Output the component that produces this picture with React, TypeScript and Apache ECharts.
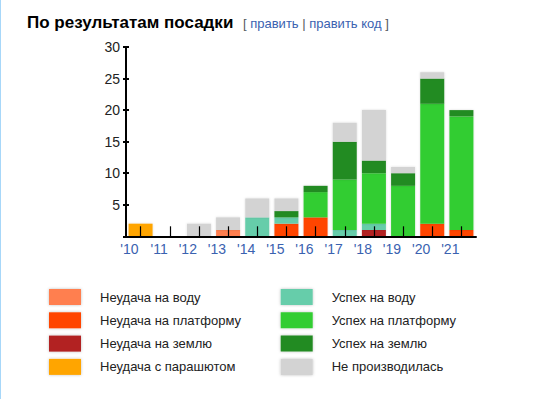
import React, { useEffect, useRef } from "react";
import * as echarts from "echarts";

const years = ["'10", "'11", "'12", "'13", "'14", "'15", "'16", "'17", "'18", "'19", "'20", "'21"];
const oceanFail = [0, 0, 0, 1, 0, 0, 0, 0, 0, 0, 0, 0];
const platformFail = [0, 0, 0, 0, 0, 2, 3, 0, 0, 0, 2, 1];
const groundFail = [0, 0, 0, 0, 0, 0, 0, 0, 1, 0, 0, 0];
const parachuteFail = [2, 0, 0, 0, 0, 0, 0, 0, 0, 0, 0, 0];
const oceanSuccess = [0, 0, 0, 0, 3, 1, 0, 1, 1, 0, 0, 0];
const platformSuccess = [0, 0, 0, 0, 0, 0, 4, 8, 8, 8, 19, 18];
const groundSuccess = [0, 0, 0, 0, 0, 1, 1, 6, 2, 2, 4, 1];
const notPerformed = [0, 0, 2, 2, 3, 2, 0, 3, 8, 1, 1, 0];

const seriesNames = [
  "Неудача на воду",
  "Неудача на платформу",
  "Неудача на землю",
  "Неудача с парашютом",
  "Успех на воду",
  "Успех на платформу",
  "Успех на землю",
  "Не производилась",
];
const seriesData = [
  oceanFail,
  platformFail,
  groundFail,
  parachuteFail,
  oceanSuccess,
  platformSuccess,
  groundSuccess,
  notPerformed,
];
const seriesColors = [
  "#ff7f50",
  "#ff4500",
  "#b22222",
  "#ffa500",
  "#66cdaa",
  "#32cd32",
  "#228b22",
  "#d3d3d3",
];

const FONT = "'Liberation Sans', Arial, sans-serif";

export default function App() {
  const ref = useRef<HTMLDivElement>(null);
  useEffect(() => {
    if (!ref.current) return;
    const chart = echarts.init(ref.current, undefined, { renderer: "svg" });
    const legendCommon = {
      orient: "vertical" as const,
      itemWidth: 32,
      itemHeight: 16,
      itemGap: 7.3,
      icon: "rect",
      top: 289,
      padding: 0,
      selectedMode: false,
      itemStyle: { shadowBlur: 3, shadowColor: "rgba(0,0,0,0.25)" },
      textStyle: {
        fontFamily: FONT,
        fontSize: 13,
        color: "#222",
        padding: [0, 0, 0, 14],
      },
    };
    chart.setOption({
      animation: false,
      backgroundColor: "#fff",
      grid: { left: 126, right: 82, top: 47, bottom: 162.7, containLabel: false },
      legend: [
        { ...legendCommon, left: 49, data: seriesNames.slice(0, 4) },
        { ...legendCommon, left: 280.7, data: seriesNames.slice(4) },
      ],
      xAxis: {
        type: "category",
        data: years,
        boundaryGap: true,
        z: 5,
        axisLine: { show: true, lineStyle: { color: "#000", width: 2 } },
        axisTick: {
          show: true,
          interval: 0,
          alignWithLabel: true,
          inside: true,
          length: 10,
          lineStyle: { color: "#000", width: 1.2 },
        },
        axisLabel: {
          interval: 0,
          align: "right",
          margin: 6,
          padding: [0, 2, 0, 0],
          color: "#3a62b0",
          fontFamily: FONT,
          fontSize: 14,
        },
        splitLine: { show: false },
      },
      yAxis: [
        {
          type: "value",
          min: 0,
          max: 30,
          interval: 5,
          z: 5,
          axisLine: { show: true, lineStyle: { color: "#000", width: 2 } },
          axisTick: { show: true, length: 3, lineStyle: { color: "#000", width: 2 } },
          axisLabel: {
            margin: 6,
            color: "#222",
            fontFamily: FONT,
            fontSize: 14,
            formatter: (v: number) => (v === 0 ? "" : String(v)),
          },
          splitLine: { show: false },
        },
        {
          type: "value",
          position: "left",
          min: 0,
          max: 30,
          interval: 5,
          z: 5,
          axisLine: { show: false },
          axisTick: { show: true, inside: true, length: 3, lineStyle: { color: "#000", width: 2 } },
          axisLabel: { show: false },
          splitLine: { show: false },
        },
      ],
      series: seriesNames.map((name, i) => ({
        name,
        type: "bar",
        stack: "total",
        barWidth: 24,
        data: seriesData[i],
        itemStyle: { color: seriesColors[i], shadowBlur: 2, shadowColor: "rgba(0,0,0,0.15)" },
        emphasis: { disabled: true },
      })),
      graphic: [
        { type: "rect", left: 0, top: 0, shape: { width: 1, height: 399 }, style: { fill: "#a7d7f9" } },
        {
          type: "text",
          x: 27,
          y: 22,
          style: {
            text: "По результатам посадки",
            font: `bold 17px ${FONT}`,
            fill: "#000",
            verticalAlign: "middle",
          },
        },
        {
          type: "text",
          x: 243,
          y: 23,
          style: {
            text: "[ {l|править} | {l|править код} ]",
            font: `13px ${FONT}`,
            fill: "#54595d",
            verticalAlign: "middle",
            rich: { l: { fill: "#3a62b0", font: `13px ${FONT}` } },
          },
        },
      ],
    });
    return () => chart.dispose();
  }, []);
  return (
    <div
      ref={ref}
      style={{ position: "fixed", left: 0, top: 0, width: 558, height: 399, background: "#fff" }}
    />
  );
}
